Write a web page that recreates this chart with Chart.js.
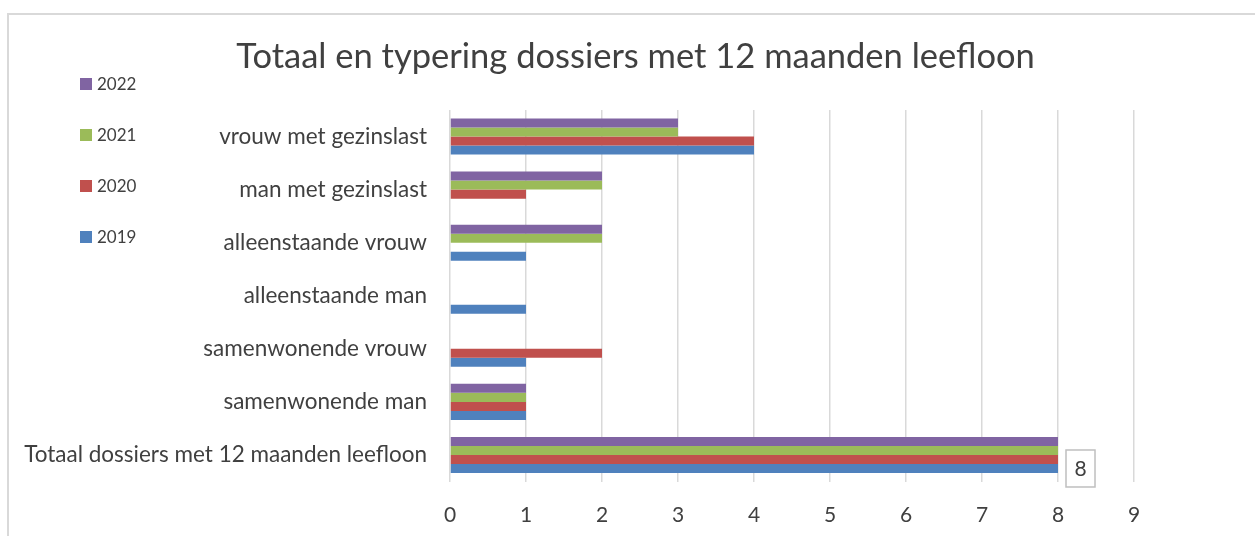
<!DOCTYPE html>
<html>
<head>
<meta charset="utf-8">
<script src="https://cdn.jsdelivr.net/npm/chart.js@4.4.0/dist/chart.umd.min.js"></script>
<style>
  html, body { margin: 0; padding: 0; background: #fff; }
  #wrap { position: relative; width: 1255px; height: 536px; overflow: hidden; }
  #frame { position: absolute; left: 7px; top: 13px; width: 1260px; height: 540px;
           border-left: 2px solid #d9d9d9; border-top: 2px solid #d9d9d9; }
  #myChart { position: absolute; left: 0; top: 0; }
</style>
</head>
<body>
<div id="wrap">
  <div id="frame"></div>
  <canvas id="myChart" width="1255" height="536"></canvas>
</div>
<script>
const categories = [
  "vrouw met gezinslast",
  "man met gezinslast",
  "alleenstaande vrouw",
  "alleenstaande man",
  "samenwonende vrouw",
  "samenwonende man",
  "Totaal dossiers met 12 maanden leefloon",
];
const years = ["2022", "2021", "2020", "2019"];
const values2022 = [3, 2, 2, 0, 0, 1, 8];
const values2021 = [3, 2, 2, 0, 0, 1, 8];
const values2020 = [4, 1, 0, 0, 2, 1, 8];
const values2019 = [4, 0, 1, 1, 1, 1, 8];
const xTicks = [0, 1, 2, 3, 4, 5, 6, 7, 8, 9];

const colors = ["#8064A2", "#9BBB59", "#C0504D", "#4F81BD"];
const textColor = "#404040";
const fontFamily = "Lato, 'Noto Sans', sans-serif";

// legend stacked at the top left, one year per row
const sideLegend = {
  id: "sideLegend",
  afterDraw(chart) {
    const ctx = chart.ctx;
    ctx.save();
    ctx.font = "17px " + fontFamily;
    ctx.textBaseline = "middle";
    ctx.textAlign = "left";
    chart.data.datasets.forEach((ds, i) => {
      const y = 84 + i * 51;
      ctx.fillStyle = ds.backgroundColor;
      ctx.fillRect(80, y - 6, 12, 12);
      ctx.fillStyle = textColor;
      ctx.fillText(ds.label, 97, y + 1);
    });
    ctx.restore();
  },
};

// boxed value label on the total bar of 2019
const totalLabel = {
  id: "totalLabel",
  afterDatasetsDraw(chart) {
    const dsIndex = years.indexOf("2019");
    const meta = chart.getDatasetMeta(dsIndex);
    const last = categories.length - 1;
    const bar = meta.data[last];
    const value = chart.data.datasets[dsIndex].data[last];
    const ctx = chart.ctx;
    const w = 29, h = 37;
    const x = bar.x + 8;
    const y = bar.y - h / 2;
    ctx.save();
    ctx.strokeStyle = "#bfbfbf";
    ctx.lineWidth = 1.5;
    ctx.strokeRect(x, y, w, h);
    ctx.fillStyle = textColor;
    ctx.font = "21px " + fontFamily;
    ctx.textAlign = "center";
    ctx.textBaseline = "middle";
    ctx.fillText(String(value), x + w / 2, y + h / 2 + 1);
    ctx.restore();
  },
};

const chart = new Chart(document.getElementById("myChart"), {
  type: "bar",
  data: {
    labels: categories,
    datasets: [values2022, values2021, values2020, values2019].map((data, i) => ({
      label: years[i],
      data,
      backgroundColor: colors[i],
      borderWidth: 0,
      categoryPercentage: 0.68,
      barPercentage: 1,
    })),
  },
  options: {
    indexAxis: "y",
    responsive: false,
    animation: false,
    layout: { padding: { left: 16, right: 0, top: 0, bottom: 0 } },
    scales: {
      x: {
        min: 0,
        max: 9,
        afterBuildTicks(scale) {
          scale.ticks = xTicks.map((v) => ({ value: v }));
        },
        afterFit(scale) {
          scale.height = 54.5;
        },
        grid: { color: "#d9d9d9", lineWidth: 1.5, drawTicks: false },
        border: { display: false },
        ticks: {
          color: textColor,
          font: { family: fontFamily, size: 21 },
          padding: 21,
        },
      },
      y: {
        afterFit(scale) {
          scale.width = 434;
        },
        grid: { display: false, drawTicks: false },
        border: { display: false },
        ticks: {
          color: textColor,
          font: { family: fontFamily, size: 22.5 },
          padding: 23,
        },
      },
      // empty strip on the right, keeps the plot narrower than the title
      yRight: {
        type: "category",
        position: "right",
        afterFit(scale) {
          scale.width = 121;
        },
        grid: { display: false },
        border: { display: false },
        ticks: { display: false },
      },
    },
    plugins: {
      legend: { display: false },
      tooltip: { enabled: false },
      title: {
        display: true,
        text: "Totaal en typering dossiers met 12 maanden leefloon",
        color: textColor,
        font: { family: fontFamily, size: 34.5, weight: "normal" },
        padding: { top: 36.3, bottom: 32.3 },
      },
    },
  },
  plugins: [sideLegend, totalLabel],
});
</script>
</body>
</html>
